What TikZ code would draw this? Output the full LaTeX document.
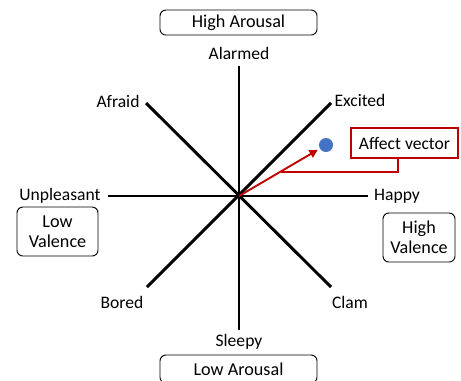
\documentclass[tikz,border=0pt]{standalone}
\usepackage{fontspec}
\setmainfont{Carlito}
\usetikzlibrary{arrows.meta, calc}

\definecolor{dotblue}{HTML}{4472C4}
\definecolor{darkred}{HTML}{C00000}

\tikzset{
  axisline/.style={line width=2.5pt, black},
  emolabel/.style={font=\fontsize{15}{17}\selectfont, inner sep=1pt},
  polebox/.style={draw, line width=0.8pt, rounded corners=5pt, align=center,
    font=\fontsize{15.5}{17}\selectfont, inner sep=2pt},
}

\begin{document}
\begin{tikzpicture}[x=0.03cm, y=-0.03cm]
    \useasboundingbox (0,0) rectangle (461,380);
    \clip (0,0) rectangle (461,380);

    % Centre and axis ends
    \coordinate (c) at (239,196);
    \coordinate (n) at (239,66);
    \coordinate (s) at (239,330);
    \coordinate (w) at (108,196);
    \coordinate (e) at (368,196);
    \coordinate (ne) at (331,103);
    \coordinate (nw) at (146,103);
    \coordinate (se) at (331,287);
    \coordinate (sw) at (147,287);

    % Axes
    \draw[axisline] (n) -- (s);
    \draw[axisline] (w) -- (e);
    \draw[axisline] (sw) -- (ne);
    \draw[axisline] (nw) -- (se);

    % Emotions
    \node[emolabel] (alarmed) at (239,53) {Alarmed};
    \node[emolabel] (sleepy) at (239,342) {Sleepy};
    \node[emolabel] (unpleasant) at (60,196) {Unpleasant};
    \node[emolabel] (happy) at (397,196) {Happy};
    \node[emolabel] (afraid) at (118,101) {Afraid};
    \node[emolabel] (excited) at (360,100) {Excited};
    \node[emolabel] (bored) at (122,302) {Bored};
    \node[emolabel] (clam) at (350,302) {Clam};

    % Poles
    \node[polebox, minimum width=4.71cm, minimum height=0.75cm] (higharousal) at (238.5,22.5) {High Arousal};
    \node[polebox, minimum width=4.71cm, minimum height=0.84cm] (lowarousal) at (238.5,369) {Low Arousal};
    \node[polebox, minimum width=2.43cm, minimum height=1.47cm] (lowvalence) at (57.5,231.5) {Low\\Valence};
    \node[polebox, minimum width=2.16cm, minimum height=1.47cm] (highvalence) at (419,237.5) {High\\Valence};

    % Affect vector
    \node[circle, fill=dotblue, minimum size=0.42cm, inner sep=0pt] (dot) at (326,145) {};
    \draw[darkred, line width=1.6pt, -{Triangle[length=7pt, width=7pt]}, shorten >=2pt] (c) -- (dot);
    \node[draw=darkred, line width=1.8pt, font=\fontsize{15}{17}\selectfont,
      minimum width=3.2cm, minimum height=0.9cm, inner sep=2pt] (avec) at (404.5,143) {Affect vector};
    \coordinate (hit) at ($(c)!0.477!(dot)$);
    \draw[darkred, line width=1.8pt] ([xshift=-0.2cm]avec.south) |- (hit);
\end{tikzpicture}
\end{document}
